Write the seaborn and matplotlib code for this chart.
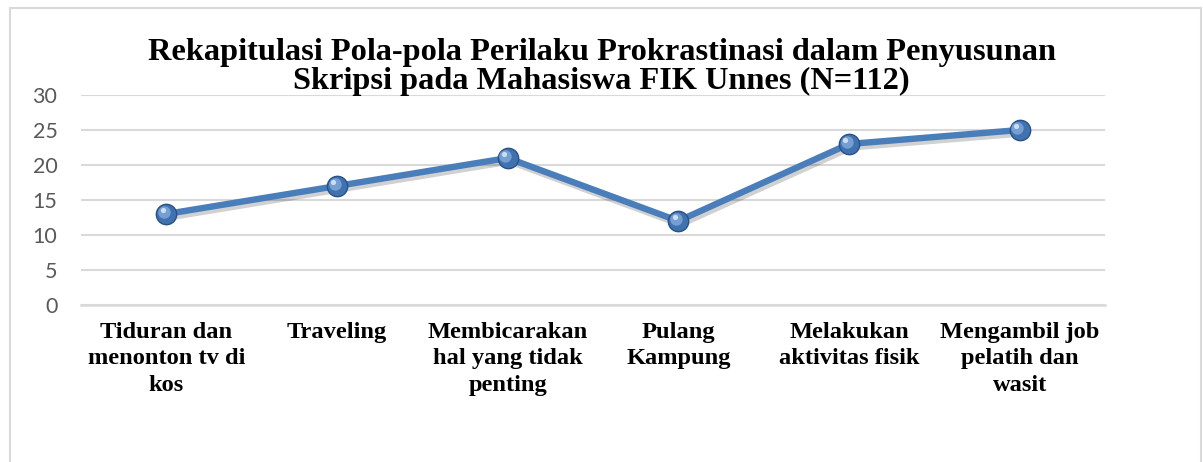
import matplotlib
matplotlib.use("Agg")
import matplotlib.pyplot as plt
import matplotlib.patheffects as pe
from matplotlib.patches import Rectangle
from matplotlib.transforms import ScaledTranslation
import seaborn as sns
import pandas as pd

categories = [
    "Tiduran dan\nmenonton tv di\nkos",
    "Traveling",
    "Membicarakan\nhal yang tidak\npenting",
    "Pulang\nKampung",
    "Melakukan\naktivitas fisik",
    "Mengambil job\npelatih dan\nwasit",
]
values = [13, 17, 21, 12, 23, 25]
yticks = [0, 5, 10, 15, 20, 25, 30]
title_lines = ["Rekapitulasi Pola-pola Perilaku Prokrastinasi dalam Penyusunan",
               "Skripsi pada Mahasiswa FIK Unnes (N=112)"]

df = pd.DataFrame({"cat": categories, "val": values})

sns.set_theme(style="white")
plt.rcParams["font.family"] = ["Liberation Serif", "DejaVu Serif"]

W, H = 1203, 462
fig = plt.figure(figsize=(W / 100, H / 100), dpi=100)
fig.patch.set_facecolor("white")
ax = fig.add_axes([81 / W, 1 - 305 / H, (1105 - 81) / W, (305 - 95) / H])

line_color = "#4A7EBB"
sns.lineplot(data=df, x="cat", y="val", ax=ax, color=line_color, linewidth=4.6,
             sort=False, zorder=3,
             path_effects=[pe.SimpleLineShadow(offset=(1.5, -2.5), shadow_color="black", alpha=0.18),
                           pe.Normal()])
# spherical markers
sns.scatterplot(data=df, x="cat", y="val", ax=ax, s=215, color="#3F72AF",
                edgecolor="#2A5286", linewidth=1.0, zorder=4, legend=False)
off = ax.transData + ScaledTranslation(-1.8 / 72, 1.8 / 72, fig.dpi_scale_trans)
sns.scatterplot(data=df, x="cat", y="val", ax=ax, s=80, color="#7FA8DA",
                linewidth=0, alpha=0.85, zorder=5, legend=False, transform=off)
off2 = ax.transData + ScaledTranslation(-2.6 / 72, 2.8 / 72, fig.dpi_scale_trans)
sns.scatterplot(data=df, x="cat", y="val", ax=ax, s=14, color="#D5E4F5",
                linewidth=0, alpha=0.9, zorder=6, legend=False, transform=off2)

ax.set_xlim(-0.5, len(categories) - 0.5)
ax.set_ylim(0, 30)
ax.set_yticks(yticks)
ax.set_yticklabels([str(v) for v in yticks], family="Lato", fontsize=15.5, color="#595959")
ax.set_xticks(range(len(categories)))
ax.set_xticklabels(categories, fontsize=17.6, fontweight="bold", color="black",
                   linespacing=1.35, va="top")
ax.set_xticks([i - 0.5 for i in range(len(categories) + 1)], minor=True)
ax.tick_params(axis="x", which="major", length=0, pad=12)
ax.tick_params(axis="x", which="minor", length=6, width=1.5, color="#D9D9D9", direction="out")
ax.tick_params(axis="y", length=0, pad=17)
ax.set_xlabel("")
ax.set_ylabel("")
ax.grid(axis="y", color="#D9D9D9", linewidth=1.5)
ax.grid(axis="x", visible=False)
for s in ["left", "right", "top"]:
    ax.spines[s].set_visible(False)
ax.spines["bottom"].set_color("#D9D9D9")
ax.spines["bottom"].set_linewidth(1.8)
ax.set_facecolor("none")

for line, ybase in zip(title_lines, [60, 89]):
    fig.text(0.5, 1 - ybase / H, line, ha="center", va="baseline", fontsize=23.3,
             fontweight="bold", color="black")

fig.patches.append(Rectangle((10 / W, -0.1), (1201 - 10) / W, 1.1 - 8 / H,
                             transform=fig.transFigure, fill=False,
                             edgecolor="#D9D9D9", linewidth=1.5))

fig.savefig("out.png", dpi=100, facecolor="white")
